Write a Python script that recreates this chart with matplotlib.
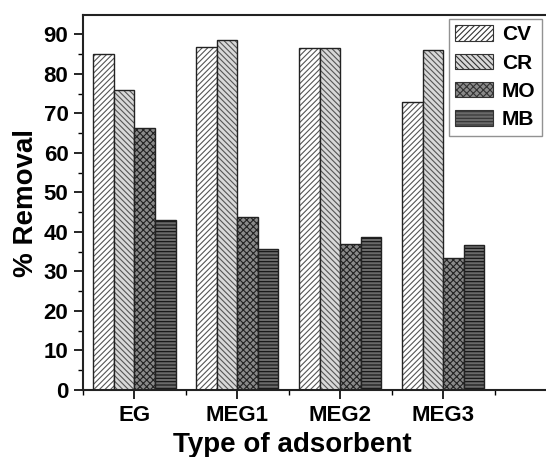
import numpy as np
import matplotlib
matplotlib.use('Agg')
import matplotlib.pyplot as plt

plt.rcParams['font.family'] = ['Liberation Sans', 'DejaVu Sans']
plt.rcParams['font.weight'] = 'bold'
plt.rcParams['hatch.linewidth'] = 0.8

adsorbents = ['EG', 'MEG1', 'MEG2', 'MEG3']
dyes = ['CV', 'CR', 'MO', 'MB']
cv = [84.9, 86.8, 86.4, 72.9]
cr = [75.8, 88.6, 86.4, 86.1]
mo = [66.3, 43.8, 37.0, 33.5]
mb = [43.0, 35.7, 38.8, 36.8]

faces = ['white', '#d8d8d8', '#8a8a8a', '#6a6a6a']
hatches = ['//////', '\\\\\\\\\\\\', 'xxxxx', '-----']
hatch_cols = ['#555555', '#555555', '#222222', '#111111']

fig = plt.figure(figsize=(5.46, 4.57), dpi=100)
ax = fig.add_axes([0.152, 0.1466, 0.848, 0.82])

x = np.arange(1, len(adsorbents) + 1)
w = 0.2
for i, vals in enumerate([cv, cr, mo, mb]):
    ax.bar(x - 0.3 + i * w, vals, w, color=faces[i], hatch=hatches[i],
           edgecolor=hatch_cols[i], linewidth=0, label=dyes[i])
    ax.bar(x - 0.3 + i * w, vals, w, fill=False, edgecolor='#222222', linewidth=1.0)

ax.set_xlim(0.5, 5.0)
ax.set_ylim(0, 94.8)
ax.set_xticks(x)
ax.set_xticklabels(adsorbents)
ax.set_xticks(np.arange(0.5, 5.0, 1.0), minor=True)
ax.set_yticks(np.arange(0, 91, 10))
ax.set_yticks(np.arange(5, 95, 10), minor=True)
ax.tick_params(axis='both', which='major', direction='out', length=6.5, width=1.2,
               labelsize=16, pad=4)
ax.tick_params(axis='both', which='minor', direction='out', length=3.5, width=1.0)
for s in ['left', 'bottom', 'top']:
    ax.spines[s].set_linewidth(1.5)
    ax.spines[s].set_color('#222222')
ax.spines['right'].set_visible(False)

ax.set_xlabel('Type of adsorbent', fontsize=20, fontweight='bold')
ax.set_ylabel('% Removal', fontsize=20, fontweight='bold')
ax.xaxis.set_label_coords(0.452, -0.111)
ax.yaxis.set_label_coords(-0.094, 0.5)

handles, labels = ax.get_legend_handles_labels()
leg = ax.legend(handles, labels, loc='upper right', bbox_to_anchor=(0.991, 0.99),
                borderaxespad=0, fontsize=15, frameon=True, fancybox=False,
                edgecolor='#777777', handlelength=1.8, handleheight=0.75,
                labelspacing=0.45, borderpad=0.3, handletextpad=0.45)
leg.get_frame().set_linewidth(1.0)
for h in leg.legend_handles:
    h.set_linewidth(0.8)
    h.set_edgecolor('#333333')

fig.savefig('out.png', dpi=100)
